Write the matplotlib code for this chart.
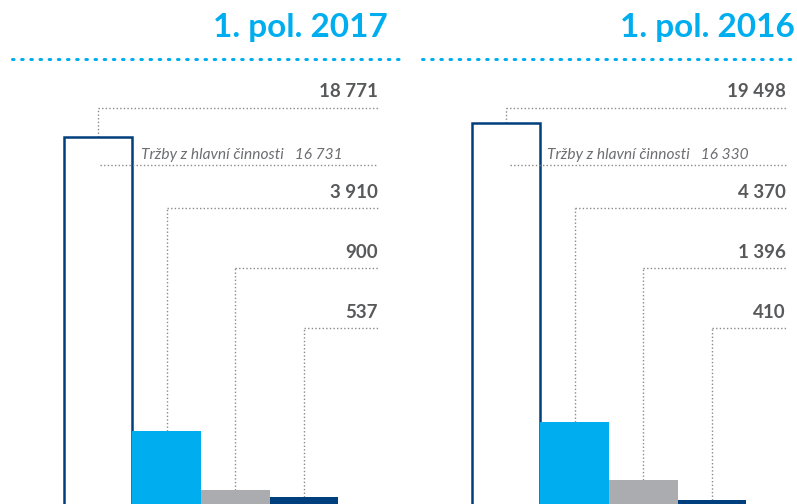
import matplotlib
matplotlib.use("Agg")
import matplotlib.pyplot as plt

#--------------------
# data

titles = ["1. pol. 2017", "1. pol. 2016"]
values_2017 = [18771, 3910, 900, 537]
values_2016 = [19498, 4370, 1396, 410]
main_revenue = [16731, 16330]
revenue_label = "Tržby z hlavní činnosti"

bar_colors = ["white", "#00AEEF", "#ABACB0", "#003F7D"]
navy = "#003F7D"
cyan = "#00AEEF"
grey_text = "#58595B"
dot_grey = "#8A8A8A"

W, H = 797, 504
px_per_unit = 0.01976      # bar scale (pixels per value unit)
base_px = 508              # value 0 sits just below the image
bar_w_px = 68.7


def fmt(v):
    return f"{v:,}".replace(",", " ")


def draw_panel(ax, title, values, revenue, left_px, right_px, first_center_px,
               label_right_px, title_right_px, dots_from_px,
               rev_text_px, rev_line_px):
    width_px = right_px - left_px
    c0 = first_center_px - left_px
    ax.set_xlim(-c0 / bar_w_px, (width_px - c0) / bar_w_px)
    ylo = (base_px - H) / px_per_unit
    yhi = base_px / px_per_unit
    ax.set_ylim(ylo, yhi)
    ax.axis("off")

    def ydata(py):
        return (base_px - py) / px_per_unit

    def xdata(px):
        return (px - first_center_px) / bar_w_px

    xs = list(range(len(values)))
    # bars
    ax.bar(xs[0], values[0], width=1.0, facecolor="white", edgecolor=navy,
           linewidth=1.8, zorder=3)
    ax.bar(xs[1:], values[1:], width=1.0, color=bar_colors[1:], linewidth=0,
           zorder=3)

    # leaders and value labels
    leader_py = [108, 208, 268, 328]
    label_py = [92, 192, 252, 313]
    x_end = xdata(label_right_px)
    dot = (0, (1, 1.6))
    for i, v in enumerate(values):
        yl = ydata(leader_py[i])
        ax.plot([xs[i], xs[i]], [v, yl], color=dot_grey, lw=1, ls=dot, zorder=2)
        ax.plot([xs[i], x_end], [yl, yl], color=dot_grey, lw=1, ls=dot, zorder=2)
        ax.text(x_end, ydata(label_py[i]), fmt(v), ha="right", va="center",
                fontsize=13.5, fontweight="bold", color=grey_text,
                family="Lato")

    # main revenue line and label
    yr = ydata(165)
    ax.plot([xdata(rev_line_px[0]), xdata(rev_line_px[1])], [yr, yr],
            color=dot_grey, lw=1, ls=dot, zorder=4)
    ax.text(xdata(rev_text_px), ydata(155),
            revenue_label + "   " + fmt(revenue), ha="left", va="center",
            fontsize=11.2, style="italic", color="#6D6E71", family="Lato")

    # title and cyan dotted rule
    ax.text(xdata(title_right_px), ydata(28), title, ha="right", va="center",
            fontsize=24, fontweight="bold", color=cyan, family="Lato")
    ax.plot([xdata(dots_from_px), xdata(right_px)], [ydata(59), ydata(59)],
            color=cyan, lw=2.2, ls=(0, (0.5, 2.5)), dash_capstyle="round",
            clip_on=False)


def main():
    fig = plt.figure(figsize=(W / 100, H / 100), dpi=100, facecolor="white")
    ax1 = fig.add_axes([0, 0, 400 / W, 1])
    ax2 = fig.add_axes([400 / W, 0, 397 / W, 1])

    draw_panel(ax1, titles[0], values_2017, main_revenue[0],
               0, 400, 98, 378, 388, 12, 141, (100, 377))
    draw_panel(ax2, titles[1], values_2016, main_revenue[1],
               400, 797, 506, 786, 795, 422, 547, (510, 786))

    fig.savefig("out.png", dpi=100, facecolor="white")


if __name__ == "__main__":
    main()
